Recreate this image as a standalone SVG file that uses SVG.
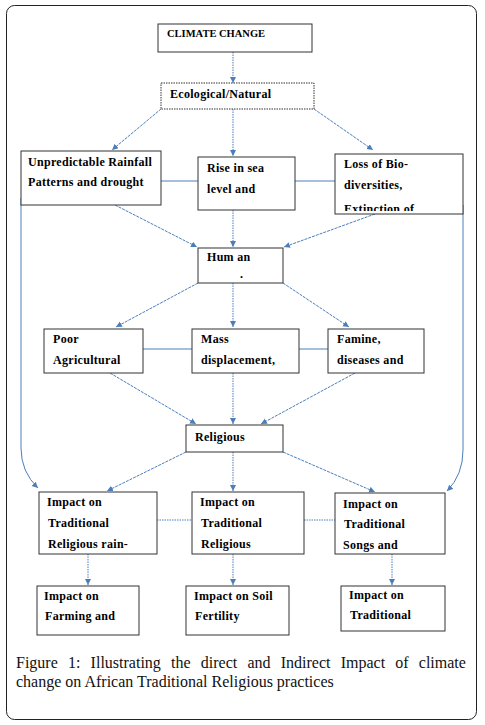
<svg xmlns="http://www.w3.org/2000/svg" width="485" height="725" viewBox="0 0 485 725">
<style>
.box{fill:#fff;stroke:#333;stroke-width:1}
.dot{fill:#fff;stroke:#333;stroke-width:1;stroke-dasharray:1.5,1}
.t{font-family:"Liberation Serif","Times New Roman",serif;font-weight:bold;font-size:12px;letter-spacing:0.3px;fill:#000}
.c{fill:none;stroke:#4a7ebb;stroke-width:1}
.d{stroke-dasharray:3,1}
.v{stroke-dasharray:1.5,1}
.cap{font-family:"Liberation Serif","Times New Roman",serif;font-size:16px;fill:#111}
</style>
<defs>
<marker id="ah" markerUnits="userSpaceOnUse" markerWidth="8" markerHeight="8" refX="6" refY="3" orient="auto">
<path d="M0,0 L6,3 L0,6 z" fill="#4a7ebb"/>
</marker>
<clipPath id="clipLoss"><rect x="335" y="154" width="128" height="57"/></clipPath>
</defs>
<rect x="6.5" y="5.5" width="470" height="714" rx="8" fill="#fff" stroke="#222" stroke-width="1"/>

<g id="connectors">
<path class="c v" d="M233,52 L233,83" marker-end="url(#ah)"/>
<path class="c d" d="M161,109 L112,150" marker-end="url(#ah)"/>
<path class="c v" d="M233,109 L233,156" marker-end="url(#ah)"/>
<path class="c d" d="M314,109 L373,150" marker-end="url(#ah)"/>
<path class="c" d="M161,181 L198,181"/>
<path class="c" d="M295,181 L335,181"/>
<path class="c d" d="M115,205 L197,247" marker-end="url(#ah)"/>
<path class="c v" d="M233,210 L233,247" marker-end="url(#ah)"/>
<path class="c d" d="M375,214 L284,247" marker-end="url(#ah)"/>
<path class="c" d="M21,198 L21,448 Q21,472 38,488" marker-end="url(#ah)"/>
<path class="c" d="M463,205 L463,450 Q463,475 447,491" marker-end="url(#ah)"/>
<path class="c d" d="M198,283 L116,327" marker-end="url(#ah)"/>
<path class="c v" d="M233,283 L233,327" marker-end="url(#ah)"/>
<path class="c d" d="M283,283 L349,327" marker-end="url(#ah)"/>
<path class="c" d="M143,349 L192,349"/>
<path class="c" d="M299,349 L328,349"/>
<path class="c d" d="M110,373 L196,424" marker-end="url(#ah)"/>
<path class="c v" d="M233,373 L233,424" marker-end="url(#ah)"/>
<path class="c d" d="M355,373 L261,424" marker-end="url(#ah)"/>
<path class="c d" d="M186,452 L107,491" marker-end="url(#ah)"/>
<path class="c v" d="M233,452 L233,491" marker-end="url(#ah)"/>
<path class="c d" d="M283,452 L375,492" marker-end="url(#ah)"/>
<path class="c v" d="M157,520 L192,520"/>
<path class="c v" d="M304,520 L335,520"/>
<path class="c v" d="M88,554 L88,585" marker-end="url(#ah)"/>
<path class="c v" d="M233,554 L233,585" marker-end="url(#ah)"/>
<path class="c v" d="M392,554 L392,585" marker-end="url(#ah)"/>
</g>

<g id="climate-change">
<rect class="box" x="158" y="24" width="154" height="28"/>
<text class="t" x="167" y="37" style="font-size:10.5px;letter-spacing:0">CLIMATE CHANGE</text>
</g>
<g id="ecological">
<rect class="dot" x="161" y="83" width="153" height="26"/>
<text class="t" x="170" y="98">Ecological/Natural</text>
</g>
<g id="rainfall">
<rect class="box" x="21" y="151" width="140" height="54"/>
<text class="t" x="28" y="166">Unpredictable Rainfall</text>
<text class="t" x="28" y="186">Patterns and drought</text>
</g>
<g id="sea-level">
<rect class="box" x="198" y="157" width="97" height="53"/>
<text class="t" x="207" y="172">Rise in sea</text>
<text class="t" x="207" y="193">level and</text>
</g>
<g id="biodiversity">
<rect class="box" x="335" y="154" width="128" height="60"/>
<g clip-path="url(#clipLoss)">
<text class="t" x="344" y="168">Loss of Bio-</text>
<text class="t" x="344" y="189">diversities,</text>
<text class="t" x="344" y="213">Extinction of</text>
</g>
</g>
<g id="human">
<rect class="box" x="198" y="248" width="85" height="35"/>
<text class="t" x="207" y="261">Hum an</text>
<text class="t" x="240" y="278">.</text>
</g>
<g id="poor-agri">
<rect class="box" x="44" y="329" width="99" height="44"/>
<text class="t" x="53" y="343">Poor</text>
<text class="t" x="53" y="364">Agricultural</text>
</g>
<g id="mass-displacement">
<rect class="box" x="192" y="329" width="107" height="44"/>
<text class="t" x="201" y="343">Mass</text>
<text class="t" x="201" y="364">displacement,</text>
</g>
<g id="famine">
<rect class="box" x="328" y="329" width="96" height="44"/>
<text class="t" x="337" y="343">Famine,</text>
<text class="t" x="337" y="364">diseases and</text>
</g>
<g id="religious">
<rect class="box" x="186" y="425" width="97" height="27"/>
<text class="t" x="195" y="441">Religious</text>
</g>
<g id="impact-rain">
<rect class="box" x="39" y="492" width="118" height="62"/>
<text class="t" x="47" y="506">Impact on</text>
<text class="t" x="48" y="527">Traditional</text>
<text class="t" x="48" y="548">Religious rain-</text>
</g>
<g id="impact-religious">
<rect class="box" x="192" y="492" width="112" height="62"/>
<text class="t" x="200" y="506">Impact on</text>
<text class="t" x="201" y="527">Traditional</text>
<text class="t" x="201" y="548">Religious</text>
</g>
<g id="impact-songs">
<rect class="box" x="335" y="493" width="110" height="61"/>
<text class="t" x="343" y="508">Impact on</text>
<text class="t" x="344" y="528">Traditional</text>
<text class="t" x="343" y="549">Songs and</text>
</g>
<g id="impact-farming">
<rect class="box" x="37" y="586" width="102" height="49"/>
<text class="t" x="44" y="600">Impact on</text>
<text class="t" x="45" y="620">Farming and</text>
</g>
<g id="impact-soil">
<rect class="box" x="186" y="586" width="103" height="49"/>
<text class="t" x="194" y="600">Impact on Soil</text>
<text class="t" x="195" y="620">Fertility</text>
</g>
<g id="impact-traditional">
<rect class="box" x="341" y="586" width="104" height="45"/>
<text class="t" x="349" y="599">Impact on</text>
<text class="t" x="350" y="619">Traditional</text>
</g>

<text class="cap" x="16" y="668" style="word-spacing:6.2px">Figure 1: Illustrating the direct and Indirect Impact of climate</text>
<text class="cap" x="16" y="687">change on African Traditional Religious practices</text>
</svg>
